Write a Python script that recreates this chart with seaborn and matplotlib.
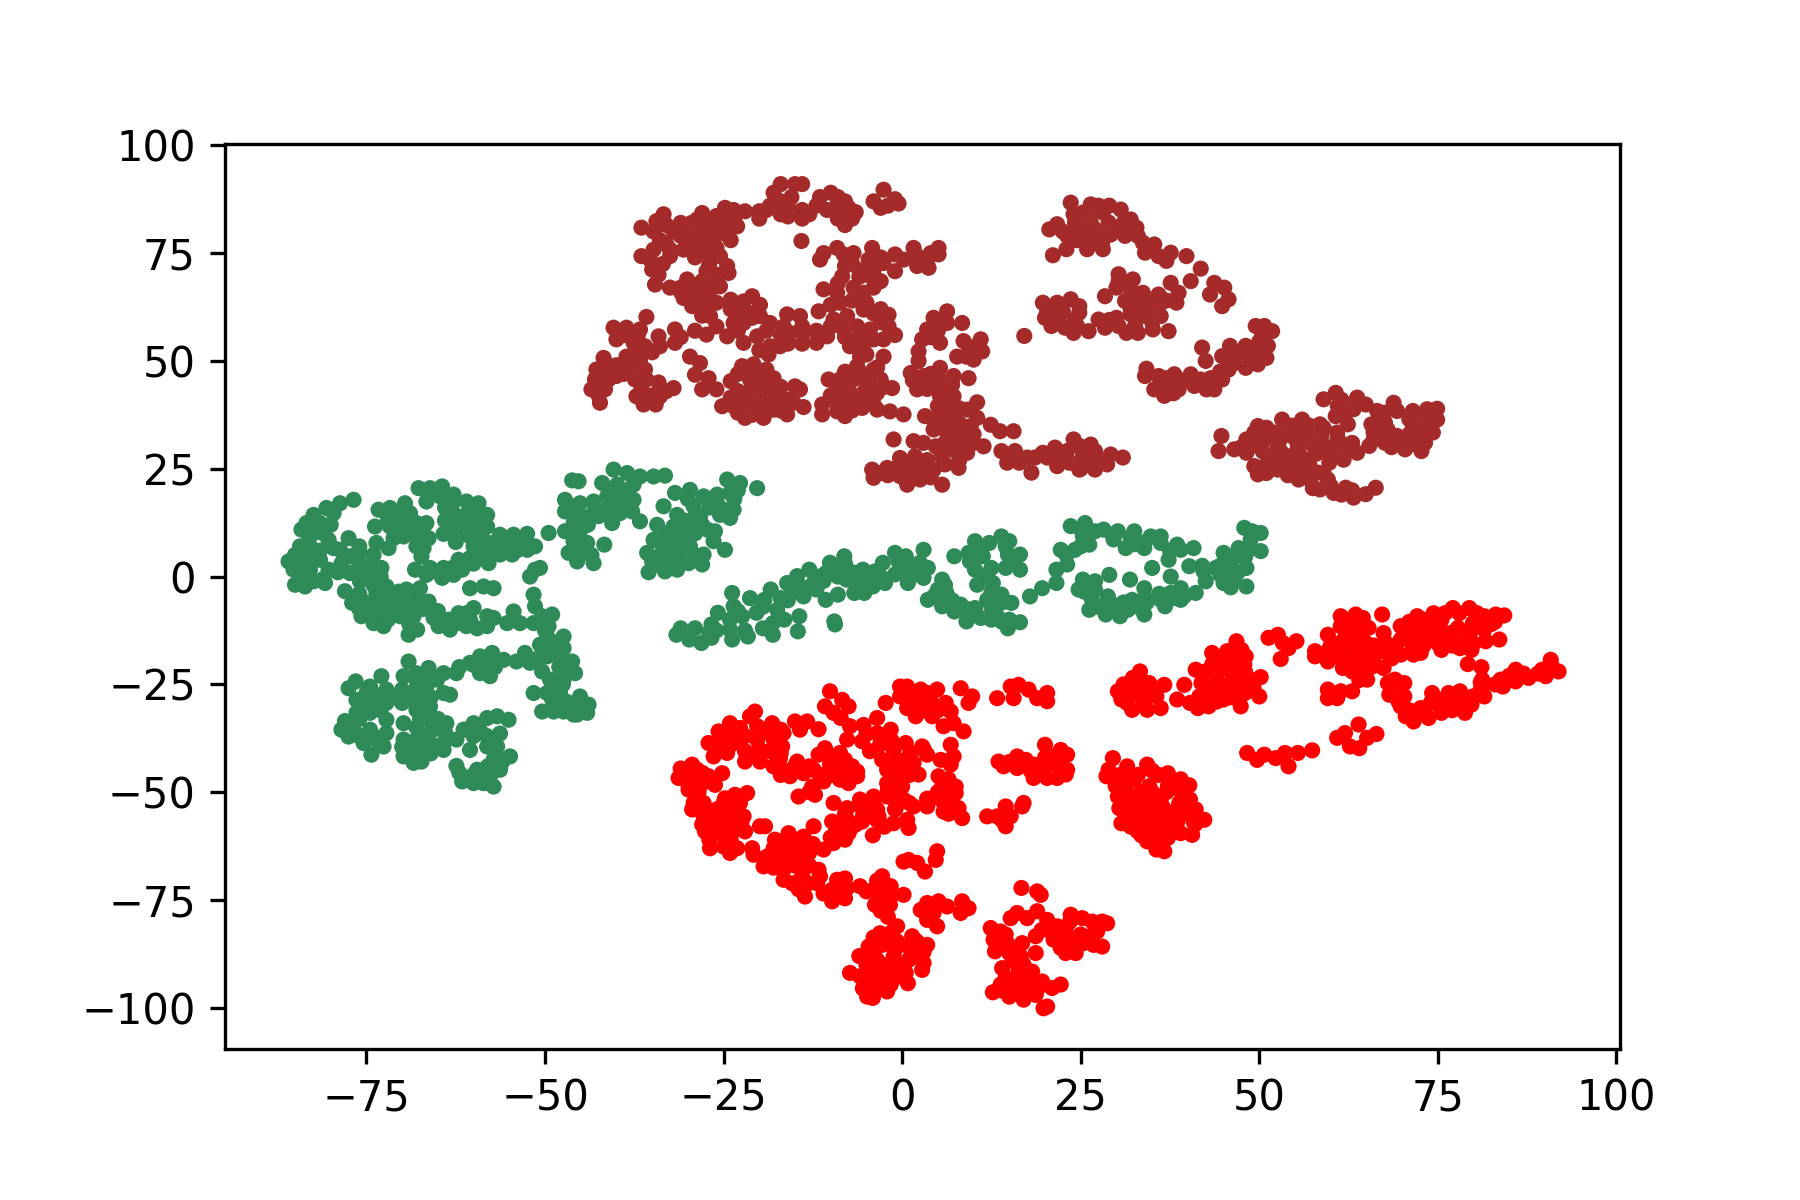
import matplotlib
matplotlib.use("Agg")
import matplotlib.pyplot as plt
import pandas as pd
import seaborn as sns

# ── Embedding points (x, y) ────────────────────────────────────────────────────
brown_pts = [
    (-17,91),(-15,91),(-14,91),(-18,89),(-17,87),(-18.5,86),(-16,86),(-14,85),(-13,84),(-14,83),(-22,84.7),(-20,84.7),(-19,85),
    (-11.5,88),(-10,89),(-9,88),(-8,87),(-7.5,85.5),(-9,85),(-10.5,85),(-8,84),(-7,83),(-9,83),(-8,81.5),
    (-2.6,89.7),(-4,87),(-2,86),(-1,87.5),(-0.5,86.5),(-3,85.5),
    (-33.4,84),(-34.4,82.4),(-36.5,80.9),(-34.8,80),(-33.9,78),(-32,80),(-30.1,80.5),(-28.7,82.8),(-28,84.3),(-26,83.6),(-24.8,85.5),(-23.6,85),
    (-25.2,81.2),(-23.1,81.2),(-24.5,79.3),(-24,78),(-26.4,78),(-27.8,76.6),(-29.7,78),(-30.6,75.8),(-32.5,75.8),(-34.8,75.8),(-36.5,74.3),(-32.5,74.3),(-35.3,73.5),
    (-26,76.2),(-25.5,74.3),(-24.5,72),(-24.3,70.4),(-25.5,67.3),(-27.4,70.8),(-35,71.2),(-34.1,70),(-34.6,67.7),(-32.5,67),(-30.1,68.9),(-28,68.5),(-29.2,66.6),
    (-30.6,64.6),(-28,65.8),(-29.4,62.7),(-27.8,62.7),(-26,63.5),(-26.9,60.4),(-26,58),(-27.4,56.1),(-29,57),
    (-24,64.2),(-22.2,63.8),(-19.9,63),(-23.1,61.9),(-21.3,61.1),(-23.6,58.8),(-22.2,58.8),(-19.9,60.4),(-18.5,58.8),(-16.6,58),(-16.1,60.8),(-14.3,60.4),
    (-24.5,55.7),(-22.2,54.2),(-20.3,55.7),(-18.5,53.4),(-17.1,53.4),(-18.7,51.5),(-15.7,56.5),(-13.8,56.5),(-12,54.2),(-10.5,55.7),
    (-11.7,61.5),(-9.6,59.6),(-7.7,60.4),(-5.4,61.9),(-4,61),(-6.3,58),(-8.2,57.3),(-4.5,57.3),(-1.9,60.7),(-1.9,58),(-2.6,55),(-7.3,53.4),(-5.9,51),(-2.6,51),
    (-8.7,63.5),(-9.1,65.8),(-11,66.6),(-8.4,69.6),(-6.8,67),(-5.4,65.8),(-4.2,76.2),(-11.5,73.5),(-11,75),(-9.1,76.2),(-6.8,75),(-8.2,74.7),(-4.7,73.5),(-2.6,72.7),(-1,74.7),
    (-5,70),(-3,68.5),(-1,70.8),(1.6,76.2),(2.1,72),(3.7,71.6),(5.1,76.2),(5.1,74.7),(3.5,73.5),(0.2,73.5),(-14.1,77.8),
    (-35.8,60.2),(-40.4,57.7),(-38.6,57.7),(-36.7,57.3),(-40,55),(-37.6,54.2),(-34.1,55.7),(-31.8,57.3),(-31.8,54.2),(-33.9,53.4),(-36,53.4),(-41.8,50.7),(-38.6,51),(-36.7,50.3),
    (-42.8,48),(-40.9,48.8),(-38.1,48),(-43,45.7),(-41.1,45.7),(-43.5,43.4),(-41.6,43.4),(-42.3,40.3),(-37.4,45.7),(-35.8,45.7),(-34.1,45),(-37.2,41.8),(-36.2,39.9),(-34.5,39.9),(-33.9,41.8),(-32,43.7),(-33,43),
    (-29.7,51),(-28.3,49.5),(-29,46.8),(-27.1,46),(-28,43.4),(-26,43.4),(-24,45.3),(-22.4,48.8),(-20.8,49.2),(-19,48),(-18,46),(-21.3,45.7),(-19.2,44.1),(-21.7,42.6),
    (-25.2,39.5),(-23.6,39.5),(-22,36.8),(-20.3,39.5),(-19.4,36.8),(-18,38.7),(-16.6,41),(-15,44.1),(-14.3,43.4),(-16.1,37.6),(-13.8,39.3),(-15.2,40.3),
    (-10.3,45.7),(-8.7,45.7),(-6.3,48.8),(-4,48),(-6.8,45.7),(-5,44.9),(-3,45.7),(-1.4,43.7),(-7.3,42.6),(-5.4,42.6),(-3.5,42.6),(-9.1,41),(-11.2,39.9),(-11.2,37.6),(-9.1,38.3),(-8,37.2),(-5.6,39.1),(-3.5,38.7),(-1.7,38.3),(0.2,37.6),
    (6.3,61.5),(4.4,60),(8.4,58.8),(3.5,57.3),(6.3,58.8),(2.8,55),(5.3,54.2),(2.3,52.2),(2.3,50),(8.6,54.6),(11,55),(11.2,52.2),(9.3,53.4),(7.7,51),(10,50.3),
    (1.2,47.2),(3,46.5),(5.3,48.4),(2.1,43.4),(7.2,46.5),(9.3,46),(4.9,44.9),(5.3,41.8),(7.2,41.8),(10.5,40.4),(9.1,38.7),(3.2,37.2),(5.3,38),(7.2,37.2),(10.5,36.8),(9.6,34.9),(12.4,35.2),(15.6,33.7),(13.7,33.7),
    (4.4,34.1),(6.8,32.5),(9.1,32.5),(11.4,30.2),(4.7,30.2),(7,29.4),(9.1,28.7),(7.9,25.2),(-1.2,31.8),(1.6,31.4),(3,31),
    (-4.2,24.8),(-4,22.9),(-2.1,25.2),(-0.3,27.5),(1.8,27.9),(-0.3,23.3),(0.7,21.3),(2.5,22.5),(4.4,24.8),(5.6,21.3),(2.3,25.6),
    (13.9,29.1),(15.8,29.1),(14.7,26.4),(17.5,27.6),(18.1,24.1),(19.7,28.7),(21.4,29.9),(24,31.8),(26.4,30.6),(23.1,29.1),(25.3,27.9),(27,29.1),(21.7,25.6),(24.8,24.8),(27,24.8),(28.7,26),(29.2,28.3),(30.9,27.6),
    (16.4,26.4),(18.6,27.6),(20.3,27.6),(23.4,26.4),(25.9,26.4),(24.8,30.3),(27.5,26.8),
    (23.6,86.7),(26.4,86.3),(25.3,84.4),(28.1,84.4),(30.6,85.1),(32,82.8),(32.8,80.9),(20.6,80.5),(21.7,81.7),(24.2,82.1),(26.4,82.1),(28.9,82.1),(23.1,79),(25.3,79.7),(27.5,79.3),(29.2,79.3),(31.2,79),
    (33.7,77.4),(35.3,77),(34,75.1),(35.9,74.3),(37.6,75.1),(39.8,74.3),(37,73.2),(25.9,75.9),(28.1,75.9),(23,75.9),(21.1,74.5),
    (41.8,71.4),(40.4,68.5),(43.7,68.1),(45.1,67),(43.1,65.4),(44.8,62.7),(45.7,64.3),(30.3,70.1),(30.3,68.5),(32.3,68.9),(28.4,65),(37.6,68.1),(38.7,65.8),(33.7,65.8),(35.9,65.4),
    (31.2,63.9),(33.7,62.7),(35.9,62.7),(38.4,63.5),(32,60.8),(34.2,60.4),(36.2,60.4),(32.6,58.1),(35.1,57.3),(37.3,56.9),(30.3,58.1),(31.4,56.5),(27.5,59.6),(28.4,57.7),(26.1,56.9),(24.5,58.1),(22.8,57.7),(20.9,58.1),
    (19.7,63.5),(21.7,63.5),(23.6,64.3),(24.8,62.7),(20.3,61.6),(24.8,61.2),(22,60.4),(24.2,59.6),(17.1,55.8),
    (50.7,58.1),(51.8,56.9),(49.5,58.1),(50.4,55.8),(51.2,53.5),(48.1,53.5),(45.9,53.5),(42,53.1),(51,50.7),(48.7,50.7),(46.5,51.1),(44.8,51.1),(42.5,50),(48.1,48.4),(45.7,48),(49.8,49.2),(44.8,45.7),(43.7,43.4),
    (34.2,48.2),(35.9,46.5),(38.1,46.9),(40.4,46.9),(41.8,45.7),(35.3,43.4),(36.7,41.9),(38.7,43.4),(40.9,44.2),(42.6,43.4),(37.6,45),
    (60.7,42.6),(59,41.1),(63.7,41.5),(64.9,39.9),(61,39.5),(63.2,38.8),(60.7,37.2),(62.4,35.3),
    (68.8,40.3),(66.5,38.4),(69.3,38.4),(71.5,38.4),(73.5,38.8),(74.9,38.9),(65.7,35.3),(67.6,35.7),(71.5,34.9),(73.8,36.4),(74.3,33.4),(69.3,32.6),(66,31.8),(65.4,30.3),(67.6,31),(70.4,29.5),(72.7,29.1),(73.2,31),(71.5,32.2),(74.9,36.4),(73.2,36.4),
    (44.7,32.6),(44.3,29.1),(46.5,29.5),(48.2,31.8),(49.8,34.9),(53.2,36.4),(56,36.4),(58.5,35.3),(52,33.4),(55.4,33.4),(58.7,32.6),(60.9,33.4),(60.4,30.3),(62,29.5),(63.7,28.7),(61.8,27.1),(59.8,26.4),
    (49.8,30.3),(52.6,30.3),(55.4,30.3),(57.6,30.3),(48.2,28.7),(51.5,27.9),(54.3,27.9),(56.8,27.1),(49.3,25.6),(49.8,23.7),(52.6,24.8),(55.4,24.8),(58.2,24.1),(59.6,22.5),(58.5,20.2),(60.4,19.4),(62.1,20.6),(63.2,18.3),(64.9,19.1),(66.3,20.6),(57.1,22.5),(49.3,33.4),
    # denser parts of the clusters
    (-33,81.5),(-31,82),(-29.5,82),(-27,81.5),(-31,79),(-28,79.5),(-26,79.5),(-33,77),(-29,75.5),(-27,74.5),(-33.5,72.5),(-29,74),(-25.5,83),(-23.5,83),(-27,72.5),(-26,70),(-27,67),(-31,66),(-29,64),(-31,67),(-28,60.5),(-27,65),
    (-17,84),(-15.5,88),(-12,86),(-9,86.5),(-6.5,84.5),(-20,83),(-16,83.5),
    (-24,62),(-21,65),(-23,57),(-21,60),(-19,57),(-17,56),(-20,52.5),(-16,54),(-14,54),(-12,57),(-14,58),(-10,58),(-8,55.5),(-10,63),(-7,64),(-5,63.5),(-3,62),(-3,59),(-6,55.5),(-4,55),(-5.5,53.5),(-1,56),(-3.5,48.5),(-5,51.5),(-8,47.5),
    (-8,72),(-6,71),(-4,71),(-7,72.5),(-3,74),(-6,69.5),(-4,67),(-6.5,64.5),(-9,68),(2,74.5),(4,75),
    (-39,56),(-37,56),(-35,52),(-38,49.5),(-37,52),(-40,49),(-42,47),(-40,46.5),(-42.5,42),(-39,47),(-36,48),(-36.5,43.5),(-35,42),(-31,55.5),
    (-23,47),(-21,47.5),(-20,46),(-21,43.5),(-23,43),(-24,41.5),(-22,40.5),(-20,42),(-18,41),(-17,38.5),(-23,38),(-21,37.5),(-19,40),(-17,44),(-16,41),(-18,43.5),
    (-7,47.5),(-8,44),(-5.5,47),(-4,44),(-2.5,44),(-7,40.5),(-5,40.5),(-4,40),(-9,43.5),(-9,39.5),(-7,38.5),(-10,42),
    (6,60),(5,57),(4,55.5),(10,52.5),(9,51),(5,46.5),(4,47),(1.5,45.5),(3.5,43.5),(6,44.5),(5.5,43.5),(7,44.5),(6,40),(5,39.5),(7,39.5),(4.5,36),(6,36),(8,35.5),(8,39),(6,34),(8,34),(10,31),(6,31),(8,31),(8,27),(10,33),
    (3.5,27),(5.5,28),(6,26),(0.5,26),(-2,23.5),(-1,25),(0.5,24),(2.5,24),(4,23),(-3,24),(1,23),(3.5,26),
    (15.5,27.5),(23,27.5),(26,29),(22,28),(25,25),
    (24.5,80.5),(26,84),(27,80.5),(22.5,80),(24.5,78),(26.5,77.5),(28,77.5),(30,80.5),(31,82),(29,86),(27.5,86),(32,81),(33,79),(24,84),
    (30,67),(32,66.5),(34.5,63.5),(33,64),(37,64),(33,60),(35,59),(33,56.5),(29,59.5),(30,60),(28.5,59),(36,64),(32,62),(20,60),(24,56.5),(22.5,61.5),(21,62),
    (47,52),(49.5,52),(50,51.5),(46.5,49.5),(44.5,47.5),(43.2,46),(50,54.5),(37,46),(39,45.5),(37,44),(40,45.5),(34,46.5),(38,42.5),
    (54.5,35),(57,35),(51,34.5),(53.5,33),(49,32),(51,32),(53,32),(55,32),(57,32),(47.5,30),(50.5,29),(53,29),(55.5,29),(58,28.5),(60,28),(51,26),(53,26.5),(55,26),(57,26),(51,24),(54,23.5),(56,23.5),(53.5,25),(55.5,22.5),(57.5,20.5),(59,24),(60,21),(61.5,19),(63,20),(59,30),(59,34.5),(61,32),(63,31),
    (67.5,38),(71,36.5),(73,34.5),(71,33),(72.8,33),(68,34),(66,33.5),(67.5,33),(70,30.5),(72,30.5),(68.5,30),(62,37.5),(63.5,40.5),(61.5,41),
]

green_pts = [
    (-76.8,17.8),(-78.7,17),(-80.6,15.9),(-82.4,14.3),(-83.4,12.4),(-84.1,10.9),(-81.5,12.4),(-79.6,14.7),(-82.4,10.1),(-84.3,7),(-82.9,7),(-80.3,8.5),(-77.5,8.9),(-78.7,6.2),(-77.3,4.7),
    (-85.9,3.5),(-85.2,1.6),(-83.8,2.4),(-81.5,3.9),(-80.3,1.6),(-80.8,-1.5),(-82.4,-1.1),(-85,-1.9),(-83.6,-2.3),(-82.9,1.6),(-79.6,6.6),
    (-75.9,5.5),(-73.6,7.8),(-71.9,6.6),(-74.5,2.4),(-72.9,2),(-77.3,0.8),(-75.9,-1.1),(-74,0),(-72.2,-2.3),(-78,-3.4),(-77,-6.1),(-73.6,-3.8),(-75,-6.1),(-73.1,-6.1),(-75.7,-9.2),(-74,-8.5),(-72.6,-11.5),(-74,-10.8),(-72.2,-7.7),
    (-73.3,15.5),(-71.7,15.9),(-69.6,17),(-70.8,14),(-68.9,14.7),(-73.8,11.6),(-71.7,11.6),(-69.8,11.6),(-68,12.4),(-66.6,12.4),(-68,9.3),(-66.3,8.9),(-67,6.6),(-67.3,4.7),(-69.8,9.3),(-71.2,8.9),
    (-67.7,20.5),(-66.1,20.5),(-64.4,20.9),(-66.6,17.4),(-64.7,18.6),(-62.8,19),(-61,17.4),(-59.3,17),(-58.1,14.3),(-62.8,14.7),(-61,14.3),(-62.3,12),(-60.5,11.6),(-58.1,11.6),(-64.2,9.9),(-62.3,9.3),(-60.5,9.3),(-58.6,8.5),
    (-56.3,9.7),(-54.4,9.7),(-52.5,9.9),(-56.3,5.1),(-54.6,5.1),(-57.7,6.2),(-55.8,7.4),(-53.7,7.4),(-51.4,7),(-52.5,6.2),
    (-58.6,4.7),(-57.9,3.1),(-60.5,4.3),(-62.1,3.9),(-61.6,1.6),(-64.2,2),(-66.1,2),(-68.2,1.6),(-66.6,0.4),(-64.4,-0.3),(-62.8,0.4),(-60.5,-2.7),(-58.6,-2.3),(-57.2,-2.7),(-51.4,1.6),(-52.1,0),(-50.7,2),(-45.3,22.1),(-46.2,22.3),
    (-49.5,10.1),(-47.2,10.5),(-47.2,17.8),(-47.2,15.1),(-45.1,17),(-45.1,14),(-46,12.4),(-43.7,14),(-45.1,10.5),(-46,8.2),(-44.1,7.8),(-46.7,5.5),(-44.6,5.5),(-43.2,3.1),(-41.7,7.4),
    (-40.4,24.8),(-38.5,24),(-36.7,23.2),(-34.8,23.2),(-33.2,23.4),(-42,21.7),(-39.9,21.3),(-37.6,21.3),(-43.2,17.4),(-41.3,18.6),(-39.5,17.8),(-37.6,17.8),(-41.3,15.5),(-39.5,14.7),(-37.8,15.1),(-42.5,14),(-40.6,12.4),(-36.7,12.8),(-33.4,16.3),
    (-31.8,19.4),(-29.7,20.1),(-27.8,18.6),(-25.9,19),(-24.5,22.5),(-22.7,21.7),(-20.3,20.5),(-24.1,19.4),(-23.6,15.5),(-25.5,14.3),(-24.1,13.6),(-25.9,17),
    (-29.2,16.3),(-31.5,14.3),(-28.3,14),(-34.3,12),(-32,11.6),(-29.7,11.6),(-27.3,10.9),(-26.2,10.5),(-34.8,8.5),(-32.5,8.5),(-30.2,8.5),(-35.7,5.5),(-33.6,5.5),(-31.5,5.5),(-29.7,7),(-27.8,5.1),(-34.1,2.8),(-32,2.4),(-29.9,3.1),(-28,2.8),(-35.5,1),(-33.2,1.2),(-31.5,1.6),(-24.8,6.2),(-26.4,8.2),
    (-51.6,-4.2),(-51.4,-6.9),(-50.4,-9.2),(-49,-8.8),(-54.4,-8.1),(-55.3,-10.8),(-53.5,-10.8),(-51.6,-10.8),(-49.5,-11.5),(-47.4,-13.9),(-49.7,-13.9),(-50.7,-15.8),(-48.8,-16.2),(-47.4,-16.6),(-52.8,-17.7),(-49.7,-18.5),(-47.9,-19.3),(-54,-19.7),(-52.1,-20),(-50.4,-22),
    (-46.2,-19.7),(-45.8,-22.4),(-47.4,-21.6),(-47.4,-23.9),(-49.3,-23.9),(-51.6,-27),(-49.7,-27),(-47.9,-27),(-48.6,-29.3),(-50.4,-31.3),(-48.8,-31.3),(-47.4,-31.3),(-45.1,-27.8),(-43.9,-29.7),(-45.5,-32),(-44.1,-31.6),(-46.5,-30.1),
    (-55.8,-19.3),(-57.4,-17.7),(-59.1,-18.5),(-60.5,-20),(-58.1,-20.8),(-57.7,-23.1),(-59.1,-22.4),(-62.4,-22.4),(-64.2,-22.4),
    (-69.1,-19.7),(-66.3,-21.2),(-68,-22.4),(-69.8,-23.1),(-65.1,-23.9),(-66.6,-25.5),(-64.2,-27),(-63.3,-27.4),(-70,-26.2),(-67,-27.8),(-66.1,-30.1),(-68,-30.9),(-70,-29.3),
    (-76.5,-24.3),(-77.5,-25.9),(-72.9,-23.1),(-74.5,-25.5),(-72.2,-26.2),(-76.4,-28.6),(-74,-28.6),(-72.2,-29.3),(-76.4,-31.6),(-74.5,-31.6),(-78.5,-35.5),(-76.8,-35.5),(-74.5,-35.5),(-77.5,-37.1),(-75.4,-38.6),(-74.3,-41.3),(-72.6,-39.4),(-72.2,-33.2),(-72.2,-36.3),
    (-69.8,-34),(-66.6,-32.8),(-63.8,-34),(-65.6,-35.5),(-69.8,-37.8),(-68,-37.8),(-66.1,-38.6),(-64.2,-40.2),(-69.8,-41.7),(-68.4,-43.2),(-67.3,-42.9),(-64.2,-38.6),
    (-62.4,-37.8),(-61.4,-35.5),(-60,-34),(-58.1,-32.8),(-56.7,-32.4),(-55.1,-33.2),(-56.3,-36.4),(-58.1,-37),(-60.5,-40.2),(-58.1,-39.4),(-56.7,-39.4),(-54.9,-41.7),(-57.2,-42.5),(-62.4,-43.9),(-59.5,-44.8),(-56.3,-44.8),(-57.7,-46.3),(-61.6,-47.5),(-60,-47.9),(-57.2,-48.7),(-58.6,-47.9),
    (-69.4,-3),(-67.5,-2.7),(-66.3,-5.8),(-70,-6.1),(-68.2,-6.1),(-70.3,-9.2),(-68.4,-9.2),(-69.1,-13.5),(-67.9,-12.3),(-65.6,-9.6),(-64.9,-11.5),(-63.3,-12.3),(-62.1,-8.5),(-60,-7.3),(-62.3,-10.8),(-60.5,-10),(-58.1,-9.2),(-57.2,-9.6),(-58.1,-11.5),(-59.5,-12),(-71.2,-6.1),
    (-31.6,-13.5),(-31,-12),(-29.8,-14.6),(-28.1,-15.4),(-26.7,-14.2),(-26.7,-11.1),(-25.8,-8.4),(-23.8,-3.8),(-23.6,-6.9),(-24.1,-10),(-23.8,-14.6),(-24.1,-12.3),(-21.6,-13.9),(-18.1,-13.5),(-22.4,-9.2),(-21.3,-5),(-20.4,-8.4),(-19.3,-5.4),(-18.4,-3),(-17.5,-7.7),(-18.1,-10.8),(-14.4,-9.2),(-14.6,-12.7),
    (-16.1,-1.5),(-14.7,0.1),(-13,1.6),(-15.5,-3.8),(-13.8,-4.6),(-12.4,-1.5),(-10.1,3.2),(-8.1,4.7),(-10.7,0.8),(-8.4,1.6),(-10.7,-5.4),(-9,-4.2),(-7.8,-0.7),(-5.5,1.6),(-5.3,-3.8),(-6.7,-3.8),(-4.1,-2.3),(-2.4,-1.5),(-3.8,1.2),(-2.7,3.2),(-1,5.5),(0.5,4.7),(3,6.2),(0.2,1.6),(2.5,3.2),(0.8,-1.5),(3,-0.3),(3.6,2),
    (-9.5,-10.4),(-9.4,-11.1),(5.6,-0.7),(5,-3),(3.6,-5.4),(6.2,-3.8),(5.6,-6.9),(8.2,-6.5),(7.3,-8.1),(10.2,-7.3),(9,-10.4),(11,-9.6),
    (7.3,4.7),(9.3,5.5),(10.2,8.2),(12.2,7.8),(11.3,4.7),(10.2,1.6),(13.9,9.3),(15,8.2),(14.8,5.1),(16.5,5.1),(14.5,2),(16.5,1.6),(11.9,0.4),(10.5,-1.9),(12.7,-1.5),(11.9,-5.4),(13.9,-4.2),(15.3,-6.1),(13.3,-9.2),(15,-10),(16.5,-10.6),(14.8,-12),(17.9,-4.6),(19.6,-2.7),
    (21.6,-1.5),(21.6,1.6),(23.1,2.8),(22.2,6.2),(24.2,6.2),(23.6,11.7),(25.6,12.4),(25.3,9.3),(26.2,7.4),(28.2,10.9),(30.2,10.5),(32.5,10.5),(29.6,8.6),(34.8,9.3),(36.2,9.3),(31.3,6.6),(33.9,6.6),(36.2,7.8),(38.5,7.4),(40.8,6.6),(39,6.2),(37.3,3.9),
    (40.2,2.4),(42.2,1.2),(42.5,-1.1),(45,5.5),(45.9,3.2),(43.9,2),(45,-1.5),(48.2,2),(48.2,-2.3),(46.5,-0.7),(47.9,11.3),(50.2,10.1),(48.8,8.6),(50.2,5.9),(47.1,6.6),(48.5,6.2),(35,2),(31.9,-0.7),(37.6,0),(33.9,-2.7),
    (25.3,-0.7),(27,-1.1),(29,0.4),(24.7,-3),(26.5,-5),(28.8,-4.6),(26.2,-7.7),(28.5,-8.8),(30.5,-9.2),(32.2,-5.4),(31.6,-7.7),(33.9,-8.8),(34.2,-6.1),(36.2,-5.4),(36.8,-6.9),(39,-2.7),(39,-5.4),(41.1,-3.8),(37.6,-3.8),
    # denser parts of the clusters
    (-82,12),(-81,10),(-83,9),(-80,12),(-83,5),(-85,5),(-81.5,6),(-81,-0.5),(-84,0.5),(-78.5,3),(-79,1),(-76,7),(-74,5),(-76,3),(-76,0.5),(-73,0),(-74,-2),(-76,-4),(-75,-8),(-72,-5),(-72,-10),(-76,-7.5),(-71,-8),(-70.5,-3.5),
    (-71,13),(-68,11),(-72,13.5),(-70,15.5),(-67,10),(-68,7),
    (-64,16),(-63,17),(-60,15.5),(-59,13),(-61,13),(-64,13),(-63,11),(-59,10),(-60,7),(-62.5,8),(-58,6.5),(-57,8),(-55,8.5),(-54,6),(-56,6),(-60,3),(-63,2),(-65,1),
    (-46,15.5),(-46,10),(-44,12),(-45,8.5),(-45,7),(-45.5,3.5),(-43.5,5),(-41,16.5),(-39,16),(-43,15.5),(-39,20),(-41,20),
    (-33,10),(-31,10),(-29,10),(-33.5,7),(-31,7),(-33,4),(-31,4),(-29,5),(-35,3.5),(-30.5,13),(-29,14),(-28,12),(-30,18),(-27,16),(-25,15.5),(-23.5,18),(-23,20),
    (-68,-4.5),(-67,-7.5),(-69,-11),(-65,-8),(-63.5,-10),(-61,-8.5),(-61,-11.5),(-68.5,-7.5),
    (-50,-12.5),(-48,-15),(-50,-17),(-51,-19),(-53,-19),(-48,-21),(-49,-25.5),(-47.5,-25),(-49,-28.5),(-47,-29),(-46,-32),(-45,-30),
    (-60,-20.5),(-58,-19),(-57,-21),(-62,-21),
    (-68,-24),(-66,-23),(-68,-26),(-69,-28),(-66,-28),(-67.5,-33),(-68,-29.5),(-65,-33),(-68,-35),(-66.5,-36.5),(-64,-36),(-68,-40),(-66,-41),(-70,-39.5),(-71,-28),(-75,-27),(-73,-27.5),(-75,-30),(-76,-33),(-73,-31),(-74,-37),(-76,-37),(-73.5,-38),(-78,-33.5),
    (-59,-36),(-60,-37),(-57,-41),(-58,-44),(-60,-46),(-62,-45.5),(-56,-43),(-59,-45),
    (-29,-12),(-27,-13),(-26,-12.5),(-23,-8),(-22,-12.5),(-19.5,-12),(-16.5,-10),(-17,-5),(-19.5,-7),(-16,-5.5),(-14,-2.5),(-12,-3),(-11,-1),(-9,0),(-7,1),(-6.5,-1.5),(-5,-0.5),(-3,0),(-12,0),(-8,3),(-0.5,3.5),(1,3),(-1,0.5),(2,0.5),
    (6,-2),(4.5,-4.5),(7,-5.5),(9,-7.5),(9.5,-9),(14,-6),(12.5,-7),(13,-7.5),(14,-10.5),(12.5,-10),(12.5,2),(14.5,7),(15.5,3.5),(9.5,3.5),(11,6.5),(12.5,-3.5),
    (25,11),(27,10.5),(29.5,9.5),(32,9),(34,8),(32.5,7.5),(37.5,6),(23,5),(25,7),
    (27,-3),(25.5,-3.5),(27.5,-7),(29.5,-6.5),(29,-7.5),(31,-6),(33,-7),(34,-5),(36,-4),(38,-5),(39.5,-4.5),
    (42,2.5),(44.5,2.5),(46,1.5),(44.5,0.5),(46,-2.5),(47,1),(48,4.5),(49,10.5),(46.5,4.5),
]

red_pts = [
    (-10.1,-26.6),(-8.4,-28.6),(-10.8,-30.1),(-7.5,-30.1),(-9.6,-31.6),(-8.6,-32.8),(-2.3,-29.3),(-0.3,-25.5),(0.7,-25.5),(-0.3,-27.8),(2.6,-26.2),(4.9,-26.2),(0.7,-30.5),(2.1,-29.3),(4,-28.9),(6.1,-29.3),(1.9,-32.4),(4.2,-32.4),(6.8,-31.3),
    (5.8,-34.7),(7.2,-34),(8.6,-35.9),(6.8,-39),(7.2,-41.7),(6.8,-43.6),(8.2,-25.9),(9.8,-27.8),(9.3,-29.3),(13.3,-28.2),(15.2,-25.5),(16.3,-25.1),(15.6,-28.2),(17.7,-26.2),(18.9,-28.2),(20.3,-27),(20.3,-28.9),
    (-7.3,-34.7),(-5.4,-34.4),(-3.5,-32.8),(-7.7,-37.8),(-5.6,-38.2),(-3.5,-36.3),(-1.6,-35.5),(-3.1,-39),(0.5,-38.6),(2.8,-39.4),(-1.2,-40.2),(1.2,-40.9),(3.5,-41.3),(-2.8,-42.5),(-0.7,-42.5),(-2.1,-44.8),(1.6,-43.2),(5.4,-42.5),
    (-0.3,-45.9),(2.3,-45.9),(-2.1,-47.9),(0,-48.7),(-2.1,-51),(0.2,-51.7),(-0.9,-53.7),(5.1,-46.3),(7.5,-48.7),(5.6,-48.7),(7.5,-50.2),(5.4,-51.7),(3.5,-53.3),(5.8,-54.5),(7.9,-53.7),(8.4,-56),(6.8,-52.5),(1.6,-53.3),
    (-4,-51),(-5.9,-51.7),(-7.7,-53.7),(-5.4,-54),(-3.5,-54),(-9.6,-52.5),(-9.8,-56.8),(-7.7,-56.4),(-5.6,-56.8),(-3.3,-55.6),(-1.2,-57.2),(0.7,-56.4),(0.9,-58.3),(-9.4,-59.5),(-7.5,-59.5),(-4.1,-60),(-9.6,-61.8),(-11,-63.3),(-12.4,-57.9),
    (-20.6,-31.3),(-21.3,-32.4),(-18.2,-34),(-24.1,-34),(-25.7,-35.9),(-27.1,-38.6),(-25,-37.1),(-22.7,-35.1),(-20.3,-34.7),(-26.4,-41.7),(-24.5,-40.9),(-22.7,-38.6),(-20.3,-37.8),(-18,-37.8),(-16.6,-36.3),(-15,-33.6),(-13.3,-33.6),(-11.7,-35.4),(-14.3,-35.5),(-16.8,-39.4),
    (-22,-42.9),(-19.9,-42.9),(-18,-44),(-17.1,-42.1),(-14.7,-42.9),(-15.7,-46.3),(-16.6,-44.8),(-13.8,-45.6),(-10.8,-39.8),(-11.7,-41.3),(-8.7,-40.9),(-10.1,-43.6),(-12.4,-44.8),(-8,-42.5),(-6.3,-45.2),(-8.7,-47.1),(-7.5,-47.9),(-6.3,-46.3),(-11,-47.5),(-12.6,-48.7),(-12.2,-50.6),(-14.5,-51),
    (-29.4,-43.6),(-28.7,-44.8),(-31.3,-46.7),(-29.7,-46.7),(-27.1,-46.3),(-29.9,-49.4),(-26.2,-48.3),(-25.2,-45.6),(-29.2,-52.5),(-29.4,-54),(-27.8,-52.5),(-24.8,-51.4),(-21.7,-50.2),(-23.4,-50.6),(-22.7,-52.5),(-27.8,-55.6),(-26,-54),(-24.1,-54),(-22.2,-55.6),(-26,-57.2),(-24.1,-57.2),(-27.6,-59.1),(-25.5,-59.5),(-23.4,-58.7),(-22,-59.1),(-19.9,-57.9),(-19.2,-57.9),
    (-26.9,-63),(-25,-62.6),(-23.1,-63),(-24.1,-64.1),(-20.8,-64.5),(-18.9,-64.9),(-19.4,-67.2),(-17.8,-61),(-15.9,-59.5),(-13.8,-60.3),(-16.6,-62.6),(-14.3,-62.9),(-17.5,-65.7),(-15.4,-65.7),(-13.8,-65.7),(-16.6,-68),(-16.6,-70.3),(-15.4,-71.1),(-14,-68.8),(-11.7,-68),(-13.1,-71.1),(-13.6,-74.2),(-11.9,-71.1),(-9.1,-70.3),(-9.8,-72.6),(-9.8,-75.3),(-8,-74.6),(-7.7,-72.2),(-5.9,-71.8),(-4,-72.6),(-2.8,-69.5),(-1.6,-71.8),(0.2,-73.8),(-3.8,-76.1),(-1.7,-76.1),(-3,-74.2),(-2,-78.9),
    (0.9,-65.7),(2.1,-66.4),(3.2,-68.4),(4.7,-65.7),(4.9,-63.7),(0.2,-66.1),(3.5,-75.7),(5.1,-75.3),(2.6,-77.3),(4.4,-78),(6.3,-76.5),(8.4,-75.3),(9.3,-76.9),(8.2,-78),(4.9,-81.1),(3.5,-79.6),
    (-0.7,-81.1),(-3.1,-82.7),(-4.7,-85.8),(-2.8,-85.4),(-0.7,-84.6),(1.4,-83.4),(3.5,-85.4),(2.1,-86.5),(-3.5,-88.9),(-1.2,-88.1),(0.9,-88.9),(3,-89.6),(-7.3,-91.9),(-5.9,-92.7),(-4,-91.9),(-1.6,-91.2),(0.5,-91.9),(2.8,-91.2),(-4,-95),(-1.6,-94.6),(0.8,-94.3),(-4.9,-97.4),(-4.1,-97.7),(-2.1,-96.2),
    (16.7,-72.2),(18.9,-73),(19.4,-73.8),(16.1,-78),(15.2,-79.2),(18.9,-77.6),(17.5,-79.2),(20.3,-79.6),(12.4,-81.5),(13.8,-82.3),(12.8,-84.2),(14.7,-85),(13,-86.9),(15,-87.3),(16.8,-85),(18.7,-87.3),(18.7,-83.4),(16.6,-88.1),(14,-90.8),(16.3,-91.2),(18.2,-91.6),(19.6,-93.9),(22.2,-94.6),(21,-95.4),(13.8,-94.6),(15.6,-94.6),(17.5,-94.3),(12.7,-96.4),(15,-97.4),(17,-98.1),(18.7,-97),(19.8,-100.1),(20.3,-99.7),
    (21.7,-81.1),(23.6,-78.4),(25.2,-79.2),(26.6,-80),(28,-80),(28.7,-80.4),(22.9,-81.9),(21.2,-84.2),(22.9,-87.3),(24.3,-87.3),(23.1,-84.6),(25.4,-85),(26.8,-85.4),(28,-85.8),(27.3,-82.3),(22.2,-86.1),
    (13.5,-42.9),(14.2,-44),(16.1,-41.7),(17.3,-42.5),(20,-39),(22.2,-40.2),(23.1,-41.3),(16.1,-44.4),(18.4,-46.7),(18.4,-43.6),(20,-44),(21.7,-43.6),(23.1,-44.8),(20.3,-46.7),(21.7,-46.7),(22.9,-45.9),
    (11.9,-55.6),(13.3,-55.6),(14.5,-53.3),(14.5,-57.9),(15.2,-55.6),(16.8,-53.3),(17,-52.5),
    (33.3,-22),(32.3,-23.5),(30.2,-26.6),(32.5,-25.8),(34.6,-24.7),(36.7,-25.1),(31.5,-29.3),(33.8,-29.3),(35.6,-27.8),(32.2,-30.9),(34.3,-30.9),(36.2,-30.5),(30.7,-28.5),(38.5,-28.5),(40.3,-29.3),(41.4,-30.5),(42.9,-30.1),(41.6,-27.8),
    (39.5,-25.1),(41.1,-21.6),(41.9,-24.7),(43.4,-17.7),(45.5,-17.3),(46.8,-15),(48.1,-18.5),(43.4,-20.4),(45.8,-20.4),(47.9,-20.4),(44,-23.5),(46.3,-23.5),(48.4,-23.5),(50.2,-23.3),(45,-26.2),(47.1,-26.6),(49.2,-25.8),(50,-27.8),(47.4,-30.1),(45,-28.5),(43.2,-27),
    (51.3,-14.2),(52.6,-13.5),(55.2,-15),(54.1,-16.6),(53,-19.1),(53.3,-15.4),
    (61.4,-9.2),(63.5,-8.8),(64.5,-9.6),(61.4,-11.5),(63.8,-11.5),(65.3,-11.9),(59.6,-13.5),(62,-14.2),(64.3,-13.9),(67.4,-13.1),(67.7,-15.4),(57.8,-17.3),(59.6,-17.3),(62,-17.3),(64,-17.7),(66.1,-17.7),(67.9,-17.7),(59.6,-19.7),(61.7,-21.2),(63.8,-20.8),(65.9,-20.8),(67.4,-21.2),(65.1,-23.9),(57.8,-18.5),
    (67.2,-8.8),(69.8,-11.5),(69.8,-14.6),(69.8,-18.1),(71.6,-18.1),(72.6,-17.7),(72.1,-9.2),(72.1,-11.5),(74.4,-8.5),(77.1,-7.3),(79.4,-7.3),(73.7,-11.2),(77.8,-11.9),(79.9,-10.8),(81.5,-9.2),(83.1,-8.8),(84.3,-9),(81.5,-12.3),(83.6,-14.6),(81.7,-15),(71.9,-14.6),(74.2,-14.2),(76.5,-14.6),(78.8,-15),(75.5,-17),(78.1,-16.6),(79.7,-17),
    (79.2,-20.3),(81.1,-21),(81.2,-23.9),(83.8,-23.9),(85.9,-21.6),(85.9,-24.3),(87.7,-23.5),(89.6,-21.6),(90.8,-19.3),(90.1,-23.1),(91.9,-22),(84.1,-25.5),(81,-26.2),(81.5,-27.8),
    (69,-23.9),(70.3,-24.7),(68,-24.7),(68.2,-27.4),(70.3,-27.8),(69.8,-30.1),(70.5,-32.4),(71.6,-33.6),(72.6,-30.5),(73.7,-32.8),(74.2,-27),(74,-29.3),(75.5,-31.6),(75.8,-28.5),(78.1,-26.6),(77.6,-29.3),(79.7,-29.7),(78.8,-31.6),(79.9,-27.8),
    (59.6,-26.2),(59.6,-28.2),(60.9,-28.2),(61.4,-26.6),(63,-26.6),(63.9,-34.3),(60.9,-37.4),(62,-36.3),(62.7,-39.4),(64,-39.8),(65.1,-37.4),(66.4,-36.5),
    (48.3,-40.9),(49.7,-42.5),(50.7,-41.3),(52.3,-42.1),(53.6,-40.9),(54.1,-44),(55.4,-40.9),(57.4,-40.3),
    (29.5,-42.1),(28.9,-44.8),(28.6,-46.3),(31.5,-44),(34.3,-43.6),(37.2,-45.6),(35.9,-46),(29.9,-48.6),(32.5,-47.1),(34.6,-48.6),(37.2,-48.6),(40.2,-48.4),(38.8,-49.4),(30.2,-51),(33.5,-51.7),(36.2,-51.7),(38.8,-52.5),(40.3,-51.7),
    (30.4,-53.7),(33,-54.1),(35.4,-54.8),(37.7,-54.8),(41.1,-54),(42.3,-56.4),(30.7,-57.2),(33.5,-56.4),(35.6,-57.9),(37.5,-58.7),(33,-59.1),(35.1,-59.5),(40.6,-59.9),(39,-59.5),(40.8,-56.8),(34.3,-61.4),(37.2,-60.6),(35.6,-63.3),(36.7,-63.7),
    # denser parts of the clusters
    (-25,-36),(-23.5,-37),(-22,-37),(-24,-39),(-22,-40.5),(-25.5,-39),(-21.5,-41),(-20,-40),(-18.5,-40.5),(-17,-41),(-19,-36),(-17,-35.5),(-15,-44),(-13,-44),(-17,-46),
    (-10,-41.5),(-9.5,-45),(-7,-44),(-8,-45),(-7.5,-46.5),(-11.5,-46),(-10,-46),(-13,-50),
    (-28,-48),(-28,-45.5),(-30,-48),(-31,-44.5),(-28.5,-50),
    (-27,-54.5),(-25.5,-56),(-24,-55.5),(-23,-51.5),(-25,-53),(-28,-57.5),(-26.5,-58.5),(-24,-59),(-22.5,-57),(-25,-52.5),(-28,-54),
    (-24,-61),(-27,-61),(-21,-63),(-18,-63),(-15,-61),(-17,-64),(-15,-64),(-12.5,-62),(-13,-64),(-18,-67.5),(-15,-67),(-13,-67),(-14.5,-72.5),(-11,-73.5),(-8,-70),(-3.5,-70.5),(-2.5,-72.5),(-5,-73),(-1.5,-74),(-3,-77.5),(-11.5,-69.5),
    (-5,-36.5),(-1.5,-38),(-4.5,-40.5),(-2,-37),(1,-41.5),(3,-40),(1,-44.5),(-1,-44),(1,-46),(-2,-49.5),(-0.5,-50.2),(-1,-47),(-4,-52.5),(-6,-53),(-8,-55),(-5.5,-55.5),(-3.5,-56.5),(-7,-58),(-9,-58),(-6.5,-57.5),(-8,-61),(-10,-60.5),(-1,-54),(1,-52.5),(5,-50),(3.5,-51.5),(6.5,-55),(7,-50.5),(6.5,-47),(-2.5,-58),
    (1,-28),(3.5,-27),(3,-31),(5,-31),(3,-27.5),
    (-1.5,-82.5),(-3,-84),(-1,-86.5),(1,-86),(-4,-87),(-2,-90),(0,-90),(2,-88),(-3.5,-90.5),(-5,-90),(-5.5,-93),(-3,-93.5),(-1,-93),(-3,-95.5),(3,-87),(-5.5,-95.5),(-3.5,-96),(-6,-88),(2,-84.5),(-4,-83.7),
    (13.5,-85),(14.5,-83),(16,-87),(15.5,-89),(17,-90),(14.5,-93),(16,-93),(18,-93.5),(16,-96),(17.5,-96),(14,-96),(19,-95.5),(23,-86),(25,-83),(23,-83.5),(26,-83.5),(24,-86),(23.5,-80),(21,-82.5),(19.5,-82),
    (18,-45),(20,-42),(21.5,-41.5),(17,-43.5),(19,-45.5),(15,-43),(14,-56.5),
    (33,-27),(34,-28),(35.5,-26),(32,-27.5),(33.5,-24),(31,-25),
    (42.5,-22),(44,-19),(46,-19),(44,-22),(46,-22),(47.5,-17),(48,-22),(42.5,-26),(44.5,-25),(47,-25),(48,-27),(46,-28),(44,-29),(49,-24.5),
    (62.5,-10),(62.5,-13),(60.5,-15.5),(60,-16),(63,-16),(65,-15.5),(66,-16),(60.5,-18.5),(62,-19.5),(64,-19),(66,-19),(68.5,-19),(63,-22),(65,-22),(64,-24),(69,-16),
    (71,-10.5),(73,-10),(75.5,-10),(76,-8.5),(78,-8.5),(80.5,-8.5),(71,-13),(73,-13),(75,-13),(77,-13),(79.5,-13),(73,-16),(71.5,-16),(75,-15.5),(77,-16),(80,-15.5),(82.5,-11),(83,-10.5),(75.5,-12.5),
    (68.5,-26),(69.5,-29),(71,-31),(72,-32),(75,-29.5),(77,-31),(76.5,-27),(79,-28.5),(81,-24.5),(83,-25),(85,-23),(87,-22.5),(89,-22.5),(91,-21),
    (33,-46),(30.5,-46),(29,-46),(31,-47),(33.5,-50),(31.5,-50),(35,-50),(37,-50),(39,-47),(35,-45),(32,-52.5),(34.5,-53),(36.5,-53.5),(38.5,-54),(39.5,-55),(32,-55.5),(34.5,-56),(36.5,-56.5),(38.5,-57),(32,-58),(34,-58),(36,-60),(36,-61.5),(33.5,-60),(41,-57.5),
]

# ── Table for seaborn ──────────────────────────────────────────────────────────
rows = []
for name, pts in [("red", red_pts), ("seagreen", green_pts), ("brown", brown_pts)]:
    rows += [{"x": x, "y": y, "label": name} for x, y in pts]
df = pd.DataFrame(rows)

# ── Plot ───────────────────────────────────────────────────────────────────────
fig, ax = plt.subplots(figsize=(6, 4))
sns.scatterplot(
    data=df, x="x", y="y", hue="label",
    palette={"red": "#ff0000", "seagreen": "#2e8b57", "brown": "#a52a2a"},
    s=15, linewidth=0, legend=False, ax=ax,
)
ax.set_xlim(-94.8, 100.5)
ax.set_ylim(-109.5, 100.3)
ax.set_xlabel("")
ax.set_ylabel("")
fig.subplots_adjust(left=0.125, right=0.9, top=0.88, bottom=0.126)
fig.savefig("out.png", dpi=300)
